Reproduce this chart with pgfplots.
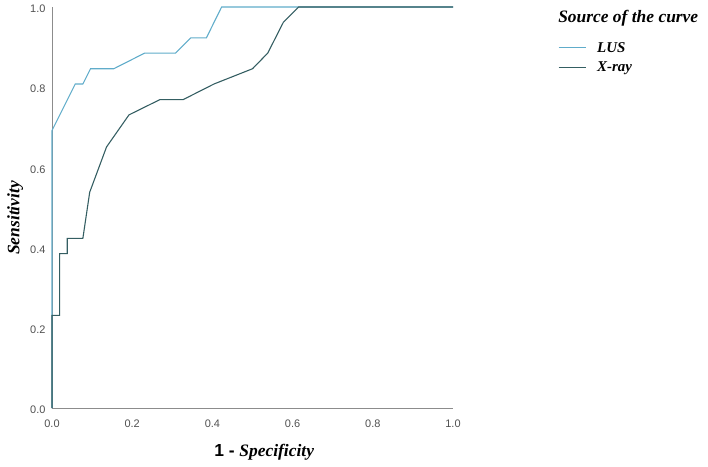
\documentclass[border=0pt]{standalone}
\usepackage{pgfplots}
\pgfplotsset{compat=1.18}
\usepackage{fontspec}
\setmainfont{Liberation Serif}
\newfontfamily\arialfont{Liberation Sans}
\definecolor{lus}{RGB}{96,172,202}
\definecolor{xray}{RGB}{52,94,98}
\definecolor{axisgray}{RGB}{140,140,140}
\definecolor{ticktext}{RGB}{80,80,80}

% ROC coordinates (1 - specificity, sensitivity)
\pgfplotstableread{
x y
0 0
0 0.692
0.058 0.808
0.077 0.808
0.096 0.846
0.154 0.846
0.231 0.885
0.308 0.885
0.346 0.923
0.385 0.923
0.423 1
1 1
}\lusdata
\pgfplotstableread{
x y
0 0
0 0.231
0.019 0.231
0.019 0.385
0.038 0.385
0.038 0.423
0.077 0.423
0.094 0.538
0.136 0.651
0.192 0.731
0.269 0.769
0.327 0.769
0.404 0.808
0.500 0.846
0.538 0.885
0.577 0.962
0.615 1
1 1
}\xraydata

\begin{document}
\begin{tikzpicture}
\useasboundingbox (0,0) rectangle (708bp,467bp);
\begin{axis}[
  at={(52bp,59bp)}, anchor=south west,
  scale only axis, width=401bp, height=401bp,
  xmin=0, xmax=1, ymin=0, ymax=1,
  axis x line=bottom, axis y line=left,
  axis line style={axisgray, line width=0.8pt, -},
  xtick={0,0.2,...,1.0}, ytick={0,0.2,...,1.0},
  major tick length=0pt,
  /pgf/number format/assume math mode=true,
  /pgf/number format/fixed, /pgf/number format/fixed zerofill,
  /pgf/number format/precision=1,
  tick label style={font=\arialfont\fontsize{11}{13}\selectfont, text=ticktext},
  xticklabel style={yshift=-8bp},
  yticklabel style={xshift=-3bp, yshift=-2bp},
  xlabel={\arialfont\bfseries 1 - \rmfamily\bfseries\itshape Specificity},
  xlabel style={font=\fontsize{17.5}{20}\selectfont, at={(axis description cs:0.529,-0.11)}, anchor=center},
  ylabel={\bfseries\itshape Sensitivity},
  ylabel style={font=\fontsize{17.5}{20}\selectfont, at={(axis description cs:-0.092,0.474)}, anchor=center, rotate=0},
  legend style={draw=none, fill=none, inner sep=0pt, outer sep=0pt,
    at={(axis description cs:1.262,0.874)}, anchor=west,
    font=\fontsize{15}{17}\selectfont\bfseries\itshape, row sep=4bp, column sep=5bp,
    legend cell align=left, nodes={inner xsep=6bp}},
  legend image code/.code={\draw[#1] (-6bp,0bp) -- (21bp,0bp);},
  clip=false,
]
\addplot[lus, line width=1.1pt] table {\lusdata};
\addlegendentry{LUS}
\addplot[xray, line width=1.1pt] table {\xraydata};
\addlegendentry{X-ray}
\node[anchor=west, inner sep=0pt, font=\fontsize{17.5}{20}\selectfont\bfseries\itshape] at (axis description cs:1.262,0.973) {Source of the curve};
\end{axis}
\end{tikzpicture}
\end{document}
